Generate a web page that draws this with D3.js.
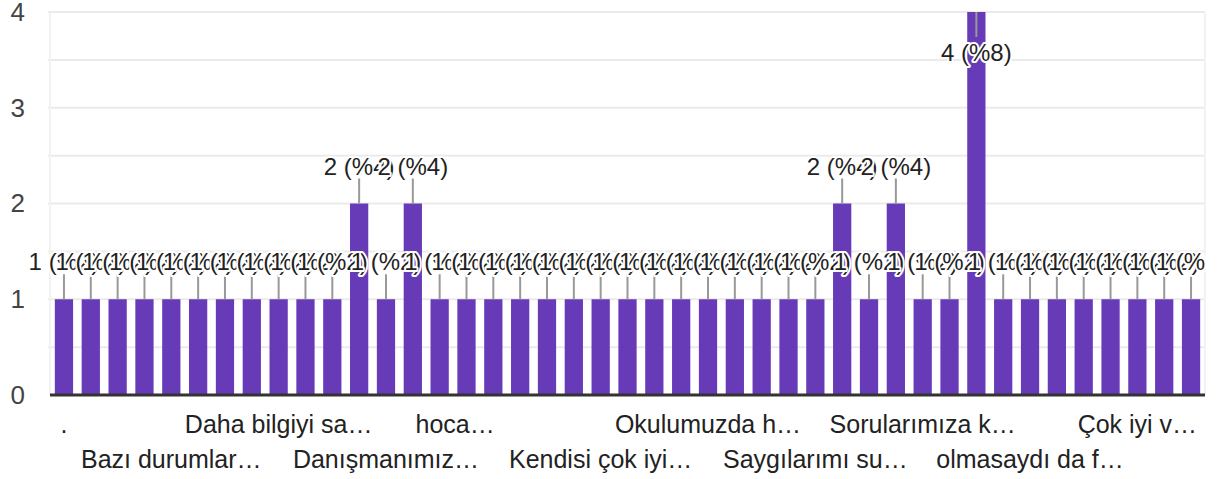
<!DOCTYPE html>
<html>
<head>
<meta charset="utf-8">
<script src="https://cdn.jsdelivr.net/npm/d3@7"></script>
<style>
  body { margin: 0; background: #fff; }
  svg { font-family: "Liberation Sans", Arial, sans-serif; }
</style>
</head>
<body>
<svg id="chart"></svg>
<script>
// category labels (only the ones Google shows are known, the rest are blank)
const categories = [
  '.', '', '', '', 'Bazı durumlar…', '', '', '', 'Daha bilgiyi sa…', '', '',
  '', 'Danışmanımız…', '', '', '', 'hoca…\u00a0\u00a0\u00a0\u00a0\u00a0\u00a0\u00a0\u00a0\u00a0\u00a0\u00a0', '', '', '', 'Kendisi çok iyi…', '',
  '', '', 'Okulumuzda h…', '', '', '', 'Saygılarımı su…', '', '', '',
  'Sorularımıza k…', '', '', '', 'olmasaydı da f…', '', '', '', 'Çok iyi v…', '', ''
];
const values = [
  1, 1, 1, 1, 1, 1, 1, 1, 1, 1, 1, 2, 1, 2, 1, 1, 1, 1, 1, 1, 1, 1,
  1, 1, 1, 1, 1, 1, 1, 2, 1, 2, 1, 1, 4, 1, 1, 1, 1, 1, 1, 1, 1
];
const yTicks = [0, 1, 2, 3, 4];
const gridTicks = [0.5, 1, 1.5, 2, 2.5, 3, 3.5, 4];

const W = 1223, H = 479;
const margin = { top: 12, right: 18, bottom: 84, left: 50 };
const total = d3.sum(values);

const svg = d3.select('#chart').attr('width', W).attr('height', H);

// annotations get clipped at the right edge of the plot, like the original
svg.append('defs').append('clipPath').attr('id', 'plotclip')
  .append('rect')
  .attr('x', 0).attr('y', 0)
  .attr('width', W - margin.right + 1).attr('height', H);

const x = d3.scaleBand()
  .domain(d3.range(values.length))
  .range([margin.left, W - margin.right])
  .paddingInner(0.32)
  .paddingOuter(0.18);

const y = d3.scaleLinear()
  .domain([0, 4])
  .range([H - margin.bottom, margin.top]);

// gridlines
svg.append('g')
  .selectAll('line')
  .data(gridTicks)
  .enter().append('line')
  .attr('x1', margin.left - 2)
  .attr('x2', W - margin.right)
  .attr('y1', d => y(d))
  .attr('y2', d => y(d))
  .attr('stroke', '#ebebeb')
  .attr('stroke-width', 2);

// faint frame sides
svg.append('g')
  .selectAll('line')
  .data([margin.left, W - margin.right])
  .enter().append('line')
  .attr('x1', d => d).attr('x2', d => d)
  .attr('y1', y(4)).attr('y2', y(0))
  .attr('stroke', '#f2f2f2')
  .attr('stroke-width', 2);

// y axis labels
const yAxis = d3.axisLeft(y).tickValues(yTicks).tickFormat(d3.format('d')).tickSize(0).tickPadding(0);
svg.append('g')
  .attr('transform', 'translate(25,0)')
  .call(yAxis)
  .call(g => g.select('.domain').remove())
  .selectAll('text')
  .attr('font-size', 26)
  .attr('font-family', '"Liberation Sans", Arial, sans-serif')
  .attr('fill', '#444');

// bars
svg.append('g')
  .selectAll('rect')
  .data(values)
  .enter().append('rect')
  .attr('x', (d, i) => x(i))
  .attr('y', d => y(d))
  .attr('width', x.bandwidth())
  .attr('height', d => y(0) - y(d))
  .attr('fill', '#673ab7');

// baseline
svg.append('line')
  .attr('x1', margin.left)
  .attr('x2', W - margin.right)
  .attr('y1', y(0))
  .attr('y2', y(0))
  .attr('stroke', '#333')
  .attr('stroke-width', 3);

// annotation stems
const stem = 25;
const inside = d => y(d) - stem - 24 < 0;
svg.append('g')
  .selectAll('line')
  .data(values)
  .enter().append('line')
  .attr('x1', (d, i) => x(i) + x.bandwidth() / 2)
  .attr('x2', (d, i) => x(i) + x.bandwidth() / 2)
  .attr('y1', d => y(d))
  .attr('y2', d => inside(d) ? y(d) + stem : y(d) - stem)
  .attr('stroke', '#999')
  .attr('stroke-width', 2);

// annotation labels, drawn in order with a white halo
svg.append('g')
  .attr('clip-path', 'url(#plotclip)')
  .selectAll('text')
  .data(values)
  .enter().append('text')
  .attr('x', (d, i) => x(i) + x.bandwidth() / 2)
  .attr('y', d => inside(d) ? y(d) + stem + 24 : y(d) - stem - 4)
  .attr('text-anchor', 'middle')
  .attr('font-size', 24)
  .attr('fill', '#222')
  .attr('stroke', '#fff')
  .attr('stroke-width', 4)
  .attr('paint-order', 'stroke')
  .attr('stroke-linejoin', 'round')
  .text(d => `${d} (%${Math.round(d / total * 100)})`);

// x category labels in two staggered rows
const shown = categories.map((c, i) => ({ c, i })).filter(d => d.c !== '');
svg.append('g')
  .selectAll('text')
  .data(shown)
  .enter().append('text')
  .attr('x', d => x(d.i) + x.bandwidth() / 2)
  .attr('y', (d, k) => k % 2 === 0 ? 433 : 468)
  .attr('text-anchor', 'middle')
  .attr('font-size', 25)
  .attr('fill', '#222')
  .style('white-space', 'pre')
  .text(d => d.c);
</script>
</body>
</html>
